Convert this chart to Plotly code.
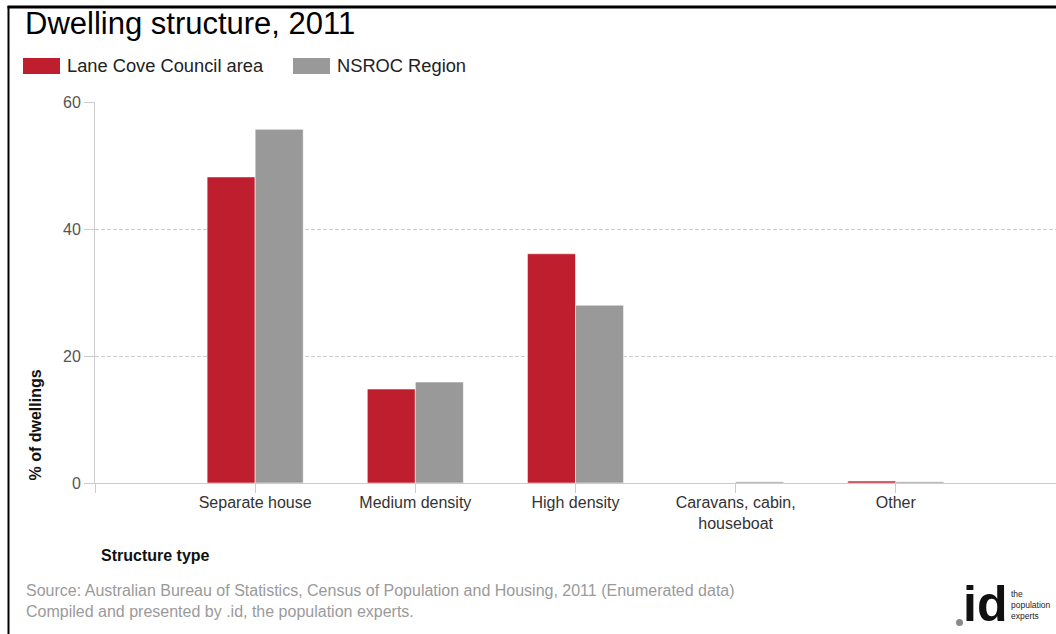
import plotly.graph_objects as go

categories = ["Separate house", "Medium density", "High density", "Caravans, cabin,<br>houseboat", "Other"]
lane_cove = [48.2, 14.8, 36.1, 0.0, 0.3]
nsroc = [55.7, 15.9, 28.0, 0.2, 0.2]
y_ticks = [0, 20, 40, 60]

W, H = 1056, 634
L, R, T, B = 95, 1056, 102, 483  # plot area in pixels


def px(p):
    return (p - L) / (R - L)


def py(p):
    return (B - p) / (B - T)


xpos = list(range(len(categories)))
FONT = "Liberation Sans, Arial, sans-serif"

fig = go.Figure()
fig.add_trace(go.Bar(x=xpos, y=lane_cove, name="Lane Cove Council area",
                     marker=dict(color="#BE1E2D", line=dict(color="rgba(255,255,255,0.55)", width=1)),
                     showlegend=False))
fig.add_trace(go.Bar(x=xpos, y=nsroc, name="NSROC Region",
                     marker=dict(color="#999999", line=dict(color="rgba(255,255,255,0.55)", width=1)),
                     showlegend=False))

shapes = []
annotations = []

# frame
shapes.append(dict(type="line", xref="paper", yref="paper", x0=px(8.5), x1=px(8.5), y0=py(6), y1=py(640),
                   line=dict(color="#000000", width=2)))
shapes.append(dict(type="line", xref="paper", yref="paper", x0=px(7.5), x1=px(1060), y0=py(7), y1=py(7),
                   line=dict(color="#000000", width=3)))

# title
annotations.append(dict(text="Dwelling structure, 2011", xref="paper", yref="paper", x=px(23), y=py(24),
                        xanchor="left", yanchor="middle", showarrow=False,
                        font=dict(family=FONT, size=31, color="#000000")))

# legend
for x0, x1, col, label in [(23, 60, "#BE1E2D", "Lane Cove Council area"), (293, 330, "#999999", "NSROC Region")]:
    shapes.append(dict(type="rect", xref="paper", yref="paper", x0=px(x0), x1=px(x1), y0=py(58), y1=py(74),
                       fillcolor=col, line=dict(width=0)))
    annotations.append(dict(text=label, xref="paper", yref="paper", x=px(x1 + 5), y=py(66),
                            xanchor="left", yanchor="middle", showarrow=False,
                            font=dict(family=FONT, size=18.3, color="#222222")))

# y axis title (bottom aligned)
annotations.append(dict(text="<b>% of dwellings</b>", xref="paper", yref="paper", x=px(35), y=py(483),
                        xanchor="center", yanchor="bottom", textangle=-90, showarrow=False,
                        font=dict(family=FONT, size=16, color="#111111")))

# x axis title
annotations.append(dict(text="<b>Structure type</b>", xref="paper", yref="paper", x=px(99), y=py(555),
                        xanchor="left", yanchor="middle", showarrow=False,
                        font=dict(family=FONT, size=16, color="#111111")))

# source
annotations.append(dict(text="Source: Australian Bureau of Statistics, Census of Population and Housing, 2011 (Enumerated data)<br>Compiled and presented by .id, the population experts.",
                        xref="paper", yref="paper", x=px(24), y=py(601), xanchor="left", yanchor="middle",
                        align="left", showarrow=False,
                        font=dict(family=FONT, size=16, color="#9a9a9a")))

# logo
shapes.append(dict(type="circle", xref="paper", yref="paper", x0=px(956), x1=px(963), y0=py(626), y1=py(619),
                   fillcolor="#8a8a8a", line=dict(width=0)))
annotations.append(dict(text="id", xref="paper", yref="paper", x=px(961), y=py(604),
                        xanchor="left", yanchor="middle", showarrow=False,
                        font=dict(family=FONT, size=50, color="#111111", weight=900)))
annotations.append(dict(text="the<br>population<br>experts", xref="paper", yref="paper", x=px(1009), y=py(605),
                        xanchor="left", yanchor="middle", align="left", showarrow=False,
                        font=dict(family=FONT, size=8.5, color="#222222")))

fig.update_layout(
    width=W, height=H,
    margin=dict(l=L, r=W - R, t=T, b=H - B, pad=0),
    paper_bgcolor="#ffffff", plot_bgcolor="#ffffff",
    barmode="group", bargap=0.4, bargroupgap=0,
    font=dict(family=FONT),
    shapes=shapes, annotations=annotations,
    xaxis=dict(range=[-1, 5], tickvals=[-1] + xpos, ticktext=[""] + categories,
               showline=True, linecolor="#cccccc", linewidth=1,
               ticks="outside", ticklen=9, tickcolor="#cccccc",
               ticklabelstandoff=-4,
               showgrid=False, zeroline=False,
               tickfont=dict(family=FONT, size=16, color="#333333")),
    yaxis=dict(range=[0, 60], tickvals=y_ticks,
               showline=True, linecolor="#cccccc", linewidth=1,
               ticks="outside", ticklen=10, tickcolor="#cccccc",
               showgrid=True, gridcolor="#cccccc", griddash="4px,2px", gridwidth=1,
               zeroline=False,
               tickfont=dict(family=FONT, size=16, color="#555555")),
)

fig.write_html("out.html")
